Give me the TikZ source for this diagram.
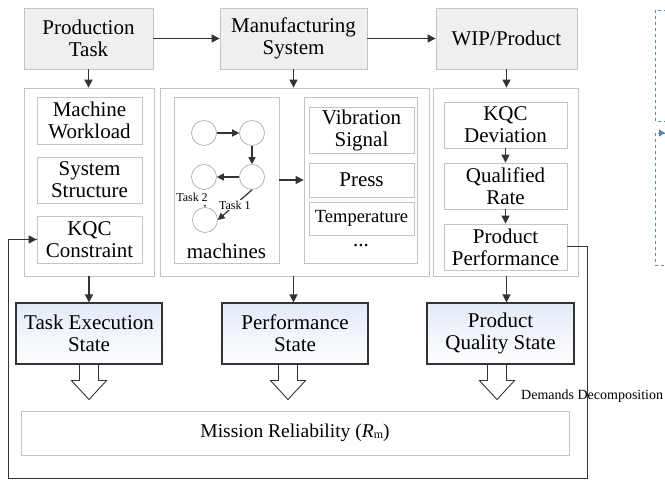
\documentclass[tikz,border=0pt]{standalone}
\usepackage{fontspec}
\setmainfont{Liberation Serif}
\newfontfamily\diagfont{Liberation Serif}
\usetikzlibrary{arrows.meta,calc}
\definecolor{bordergray}{HTML}{C4C4C4}
\definecolor{topfill}{HTML}{EFEFEF}
\definecolor{darkline}{HTML}{333333}
\definecolor{stateblue}{HTML}{E3E9F7}
\definecolor{dashblue}{HTML}{5A86B5}
\begin{document}
\begin{tikzpicture}[x=1pt,y=-1pt,
 font=\diagfont\fontsize{21}{22}\selectfont,
 topbox/.style={draw=bordergray, fill=topfill, line width=0.8pt, align=center, inner sep=0pt},
 container/.style={draw=bordergray, fill=white, line width=0.8pt, inner sep=0pt},
 itembox/.style={draw=bordergray, fill=white, line width=0.8pt, align=center, inner sep=0pt},
 statebox/.style={draw=darkline, line width=1.1pt, top color=stateblue, bottom color=white, align=center, inner sep=0pt},
 arr/.style={draw=darkline, line width=1.2pt, -{Triangle[length=8pt,width=8pt]}},
 mc/.style={circle, draw=gray!70, line width=0.6pt, minimum size=25pt, inner sep=0pt},
 carr/.style={draw=darkline, line width=1.2pt, -{Triangle[length=7pt,width=7pt]}},
 tasklbl/.style={font=\diagfont\fontsize{12}{12}\selectfont, fill=white, inner sep=1pt},
 hollow/.style={draw=darkline, line width=0.9pt},
 fb/.style={draw=darkline, line width=1pt},
 dashbox/.style={draw=dashblue, dashed, line width=0.9pt},
 hollowarrow/.pic={\draw[hollow] (-9.5,0) -- (-9.5,16) -- (-17.5,16) -- (0,35) -- (17.5,16) -- (9.5,16) -- (9.5,0);},
]
\fill[white] (0,0) rectangle (665,481);
\clip (0,0) rectangle (665,481);

% top row
\node[topbox, minimum width=129pt, minimum height=61pt] (pt) at (88.5,38.5) {Production\\Task};
\node[topbox, minimum width=147pt, minimum height=61pt] (ms) at (293.5,38.5) {Manufacturing\\System};
\node[topbox, minimum width=141pt, minimum height=61pt] (wip) at (506.5,38.5) {WIP/Product};
\draw[arr] (pt.east) -- (ms.west);
\draw[arr] (ms.east) -- (wip.west);

% containers
\node[container, minimum width=130pt, minimum height=188pt] (cl) at (89,182) {};
\node[container, minimum width=269pt, minimum height=188pt] (cm) at (294.5,182) {};
\node[container, minimum width=145pt, minimum height=188pt] (cr) at (505.5,182) {};
\draw[arr] (pt.south) -- (pt.south |- cl.north);
\draw[arr] (ms.south) -- (ms.south |- cm.north);
\draw[arr] (wip.south) -- (wip.south |- cr.north);

% left items
\node[itembox, minimum width=105pt, minimum height=47pt] (mw) at (89.5,120.5) {Machine\\Workload};
\node[itembox, minimum width=105pt, minimum height=46pt] (ss) at (89.5,180) {System\\Structure};
\node[itembox, minimum width=105pt, minimum height=47pt] (kqc) at (89.5,239.5) {KQC\\Constraint};

% middle
\node[itembox, minimum width=105pt, minimum height=166pt] (mach) at (226.5,180) {};
\node[itembox, minimum width=113pt, minimum height=166pt] (sig) at (360.5,180) {};
\node[itembox, minimum width=105pt, minimum height=46pt] (vib) at (361.5,130) {Vibration\\Signal};
\node[itembox, minimum width=105pt, minimum height=34pt] (press) at (361.5,180) {Press};
\node[itembox, minimum width=105pt, minimum height=33pt, font=\diagfont\fontsize{18.5}{20}\selectfont] (temp) at (361.5,218.5) {Temperature};
\node (dots) at (361,246) {...};
\draw[arr] (mach.east) -- (sig.west);

\node[mc] (c1) at (204,133) {};
\node[mc] (c2) at (252,133) {};
\node[mc] (c3) at (252,177) {};
\node[mc] (c4) at (204,177) {};
\node[mc] (c5) at (205,220) {};
\draw[carr] (c1) -- (c2);
\draw[carr] (c2) -- (c3);
\draw[carr] (c3) -- (c4);
\draw[carr] (c3.south) -- node[tasklbl] (t1) {Task 1} (c5.east);
\draw[draw=darkline, line width=0.8pt, -{Triangle[length=3pt,width=3pt]}] (c4.south) -- (c5.north);
\node[tasklbl, minimum height=15pt] (t2) at (192,197.5) {Task 2};
\node (machtxt) at (226.5,251) {machines};

% right items
\node[itembox, minimum width=123pt, minimum height=46pt] (kd) at (505.5,125) {KQC\\Deviation};
\node[itembox, minimum width=123pt, minimum height=46pt] (qr) at (505.5,186) {Qualified\\Rate};
\node[itembox, minimum width=123pt, minimum height=46pt] (pp) at (505.5,247) {Product\\Performance};
\draw[arr] (kd.south) -- (qr.north);
\draw[arr] (qr.south) -- (pp.north);

% state boxes
\node[statebox, minimum width=146pt, minimum height=61pt] (tes) at (89,333.5) {Task Execution\\State};
\node[statebox, minimum width=146pt, minimum height=61pt] (ps) at (295,333.5) {Performance\\State};
\node[statebox, minimum width=147pt, minimum height=61pt] (pqs) at (500.5,333.5) {Product\\Quality State};
\draw[arr] (cl.south) -- (cl.south |- tes.north);
\draw[arr] ($(cm.south)+(-1,0)$) -- ($(cm.south |- ps.north)+(-1,0)$);
\draw[arr] (wip.south |- cr.south) -- (wip.south |- pqs.north);

\pic at (tes.south) {hollowarrow};
\pic at ($(ps.south)+(-7,0)$) {hollowarrow};
\pic at ($(pqs.south)+(-3.5,0)$) {hollowarrow};
\node[anchor=west, font=\diagfont\fontsize{14}{14}\selectfont, inner sep=0pt] (dd) at (521,396) {Demands Decomposition};

% mission reliability
\node[itembox, minimum width=548pt, minimum height=44pt, font=\diagfont\fontsize{19.5}{20}\selectfont] (mr) at (295,433) {Mission Reliability (\textit{R}\raisebox{-1pt}{\fontsize{12}{12}\selectfont m})};

% feedback
\coordinate (fbr) at (587,479);
\coordinate (fbl) at (8,479);
\draw[fb] (pp.east) -| (fbr) -- (fbl) |- (kqc.west);
\draw[arr] ($(kqc.west)+(-12,0)$) -- (kqc.west);

% right dashed boxes
\coordinate (d1a) at (655,10);
\coordinate (d1b) at (700,121);
\coordinate (d2a) at (655,133);
\coordinate (d2b) at (700,265);
\draw[dashbox] (d1a) rectangle (d1b);
\draw[dashbox] (d2a) rectangle (d2b);
\coordinate (ta) at (658,133);
\coordinate (tb) at (665,133);
\draw[draw=dashblue, line width=0.8pt, -{Triangle[length=6pt,width=7pt]}] (ta) -- (tb);
\end{tikzpicture}
\end{document}
